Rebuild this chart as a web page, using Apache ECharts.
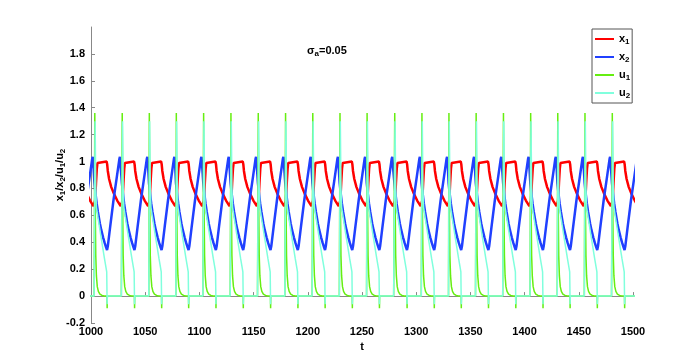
<!DOCTYPE html>
<html>
<head>
<meta charset="utf-8">
<title>sigma_a = 0.05</title>
<script src="https://cdn.jsdelivr.net/npm/echarts@6/dist/echarts.min.js"></script>
<style>
    html, body { margin: 0; padding: 0; background: #fff; }
    #chart { width: 700px; height: 364px; }
</style>
</head>
<body>
<div id="chart"></div>
<script>
// times of the u1 spikes (first one is the cycle that runs into t=1000)
const spikeTimes = [978.1, 1003.2, 1028.5, 1053.5, 1078.4, 1103.6, 1128.8, 1154.0, 1179.2, 1204.3,
    1229.4, 1254.4, 1279.9, 1305.0, 1329.9, 1355.0, 1380.2, 1405.3, 1430.3, 1455.4, 1480.6];

// shape of one cycle of every signal, tau = time since the spike
const x1Tau = [0, 0.6, 1.4, 2.2, 2.8, 3.4, 11.2, 11.7, 12.3, 13.5, 15.5, 18, 21, 24.2];
const x1Val = [0.665, 0.71, 0.84, 0.95, 0.99, 1.0, 1.0, 0.98, 0.93, 0.87, 0.81, 0.76, 0.71, 0.668];

const x2Tau = [0, 1, 2, 3.2, 5, 6.3, 8, 9.4, 10.8, 11.6, 12.3, 14.5, 17.6, 20.7, 23.0, 23.5, 24.2];
const x2Val = [0.84, 0.76, 0.69, 0.625, 0.54, 0.49, 0.435, 0.395, 0.36, 0.343, 0.37, 0.516, 0.716, 0.89, 1.02, 1.035, 0.96];

const u1Tau = [0, 0.3, 0.8, 1.2, 1.8, 2.6, 3.6, 5, 7, 9, 11.55, 11.7, 11.85, 24.8];
const u1Val = [0, 1.36, 0.6, 0.3, 0.15, 0.07, 0.035, 0.015, 0.005, 0, 0, -0.09, 0, 0];

const u2Tau = [0, 0.6, 1.2, 1.8, 3.1, 6.2, 9.2, 10.8, 11.3, 11.5, 11.65, 11.9, 24.8];
const u2Val = [0, 1.3, 0.8, 0.66, 0.59, 0.43, 0.28, 0.205, 0.18, 0.05, -0.06, 0, 0];

const xMin = 1000, xMax = 1500, xStep = 50;
const yMin = -0.2, yMax = 2, yStep = 0.2;

// lay the cycle shape down at every spike
function buildSeries(tau, vals) {
    const out = [];
    spikeTimes.forEach((s, k) => {
        const next = spikeTimes[k + 1] || Infinity;
        tau.forEach((d, i) => {
            if (s + d < next) out.push([+(s + d).toFixed(2), vals[i]]);
        });
    });
    return out;
}

const font = 'Liberation Sans, Arial, sans-serif';
const richSub = {
    n: { fontFamily: font, fontSize: 11, fontWeight: 'bold', color: '#000', lineHeight: 14 },
    s: { fontFamily: font, fontSize: 8, fontWeight: 'bold', color: '#000', lineHeight: 8, verticalAlign: 'bottom', padding: [5, 0, 0, 0] }
};

const chart = echarts.init(document.getElementById('chart'));
const option = {
    animation: false,
    backgroundColor: '#fff',
    title: {
        text: '{n|σ}{s|a}{n|=0.05}',
        left: 302,
        top: 39,
        textStyle: { rich: richSub }
    },
    legend: {
        orient: 'vertical',
        left: 592,
        top: 29,
        padding: [4, 2, 3, 3],
        itemGap: 5,
        itemWidth: 19,
        itemHeight: 2,
        itemTextGap: 4,
        icon: 'rect',
        borderColor: '#555',
        borderWidth: 1,
        data: ['x1', 'x2', 'u1', 'u2'],
        formatter: name => '{n|' + name[0] + '}{s|' + name[1] + '}',
        textStyle: { rich: richSub }
    },
    grid: { left: 91, right: 67, top: 27, bottom: 41 },
    xAxis: {
        type: 'value',
        min: xMin,
        max: xMax,
        interval: xStep,
        name: 't',
        nameLocation: 'middle',
        nameGap: 17,
        nameTextStyle: { fontFamily: font, fontSize: 11, fontWeight: 'bold', color: '#000' },
        axisLine: { lineStyle: { color: '#888', width: 1 } },
        axisTick: { inside: true, length: 4, lineStyle: { color: '#888' } },
        axisLabel: { margin: 3, formatter: v => String(v), fontFamily: font, fontSize: 11, fontWeight: 'bold', color: '#000' },
        splitLine: { show: false }
    },
    yAxis: {
        type: 'value',
        min: yMin,
        max: yMax,
        interval: yStep,
        name: '{n|x}{s|1}{n|/x}{s|2}{n|/u}{s|1}{n|/u}{s|2}',
        nameLocation: 'middle',
        nameGap: 24,
        nameMoveOverlap: false,
        nameTextStyle: { rich: richSub },
        axisLine: { show: true, lineStyle: { color: '#888', width: 1 } },
        axisTick: { show: true, inside: true, length: 4, lineStyle: { color: '#888' } },
        axisLabel: { margin: 6, showMaxLabel: false, fontFamily: font, fontSize: 11, fontWeight: 'bold', color: '#000' },
        splitLine: { show: false }
    },
    series: [
        { name: 'x1', type: 'line', showSymbol: false, color: '#ff0000', lineStyle: { width: 2.5 }, data: buildSeries(x1Tau, x1Val) },
        { name: 'x2', type: 'line', showSymbol: false, color: '#2040ff', lineStyle: { width: 2.5 }, data: buildSeries(x2Tau, x2Val) },
        { name: 'u1', type: 'line', showSymbol: false, color: '#66ee11', lineStyle: { width: 1.5 }, data: buildSeries(u1Tau, u1Val) },
        { name: 'u2', type: 'line', showSymbol: false, color: '#80ffdd', lineStyle: { width: 1.5 }, data: buildSeries(u2Tau, u2Val) }
    ]
};
chart.setOption(option);
</script>
</body>
</html>
